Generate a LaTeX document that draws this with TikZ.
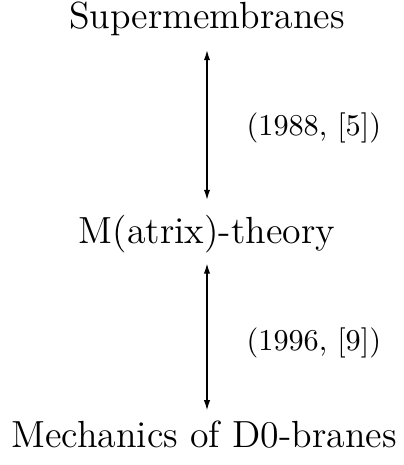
\documentclass[tikz,border=0pt]{standalone}
\usepackage{tikz}
\usetikzlibrary{arrows.meta}
\tikzset{
  theory/.style={font=\large, anchor=base, inner sep=0pt},
  year/.style={font=\fontsize{9.6pt}{11pt}\selectfont, anchor=base west, inner sep=0pt},
}
\begin{document}
\begin{tikzpicture}[x=0.3175pt, y=-0.3175pt, >={Latex[length=3.2pt,width=2pt]}]
  \useasboundingbox (0,0) rectangle (403,465);
  \node[theory] (sm) at (207,28) {Supermembranes};
  \node[theory] (mt) at (207,243) {M(atrix)-theory};
  \node[theory] (d0) at (204,447) {Mechanics of D0-branes};
  \draw[<->, shorten <=4.5pt, shorten >=4.5pt] (sm.south) -- (mt.north);
  \draw[<->, shorten <=3.3pt, shorten >=3pt] (mt.south) -- (mt.south |- d0.north);
  \node[year] (y1) at (246,135) {(1988, [5])};
  \node[year] (y2) at (246,350) {(1996, [9])};
\end{tikzpicture}
\end{document}
